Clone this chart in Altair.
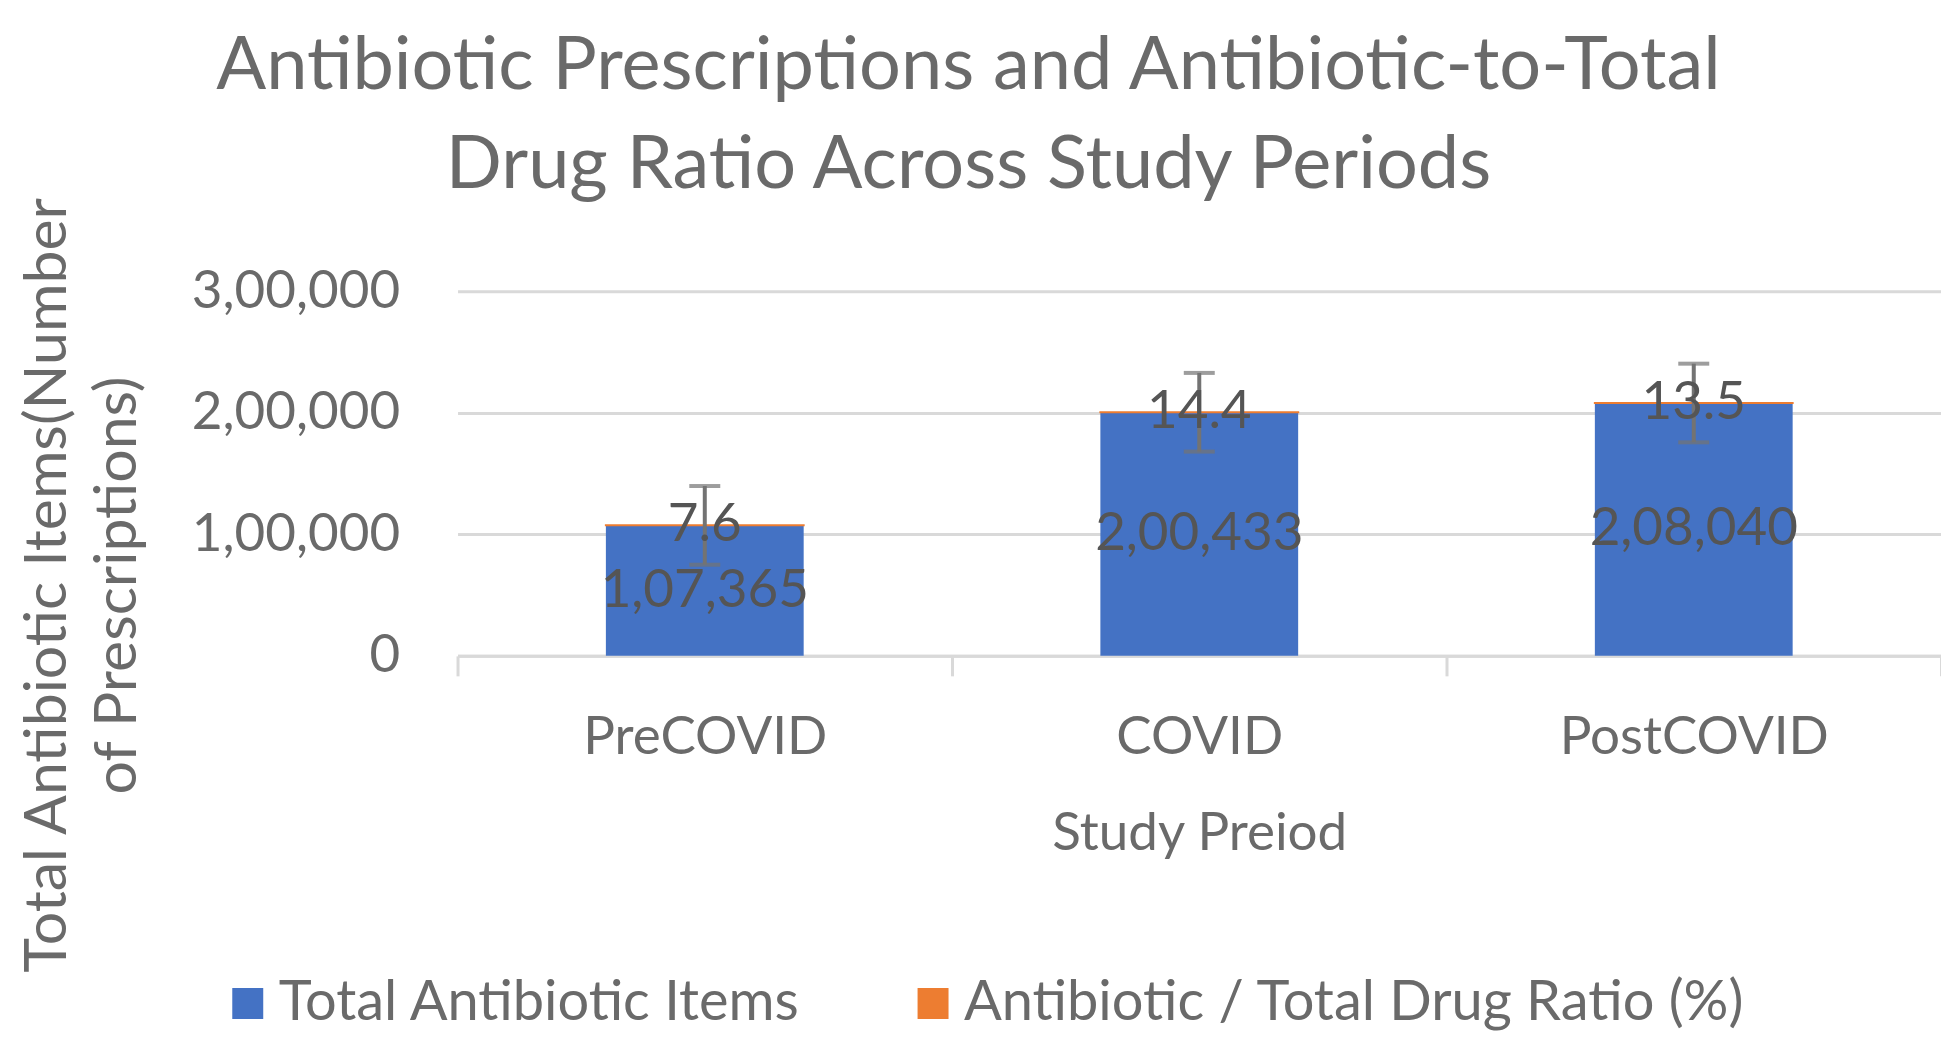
import altair as alt
import pandas as pd

# ---- data ----
periods = ["PreCOVID", "COVID", "PostCOVID"]
total_items = [107365, 200433, 208040]
ratio_pct = [7.6, 14.4, 13.5]
err_items = [32365, 32365, 32365]
series_names = ["Total Antibiotic Items", "Antibiotic / Total Drug Ratio (%)"]
series_colors = ["#4472C4", "#ED7D31"]
y_ticks = [0, 100000, 200000, 300000]


def indian(n):
    s = str(int(round(n)))
    if len(s) <= 3:
        return s
    head, tail = s[:-3], s[-3:]
    parts = []
    while len(head) > 2:
        parts.insert(0, head[-2:])
        head = head[:-2]
    if head:
        parts.insert(0, head)
    return ",".join(parts) + "," + tail


rows = []
for p, t, r in zip(periods, total_items, ratio_pct):
    rows.append({"period": p, "series": series_names[0], "value": t, "ord": 0})
    rows.append({"period": p, "series": series_names[1], "value": r, "ord": 1})
long_df = pd.DataFrame(rows)

wide_df = pd.DataFrame({
    "period": periods,
    "total": total_items,
    "ratio": ratio_pct,
    "err": err_items,
    "total_label": [indian(v) for v in total_items],
    "ratio_label": [f"{v:.1f}" for v in ratio_pct],
})

FONT = "Lato"
TXT = "#6a6a6a"
GRID = "#D9D9D9"

x_scale = alt.Scale(domain=periods, paddingInner=0, paddingOuter=0)
y_scale = alt.Scale(domain=[0, 300000], nice=False, zero=True)

x_axis = alt.Axis(
    title="Study Preiod", labelFont=FONT, labelFontSize=53, labelColor=TXT,
    labelAngle=0, labelPadding=36, labelLimit=1000, tickBand="extent",
    tickSize=20, tickWidth=3, tickColor=GRID, domainColor=GRID, domainWidth=3,
    grid=False, titleFont=FONT, titleFontSize=53, titleFontWeight="normal",
    titleColor=TXT, titleBaseline="alphabetic", titleY=194, titleAnchor="middle",
)
y_axis = alt.Axis(
    title=["Total Antibiotic Items(Number", "of Prescriptions)"],
    values=y_ticks,
    labelExpr="datum.value == 0 ? '0' : floor(datum.value / 100000) + ',00,000'",
    labelFont=FONT, labelFontSize=53, labelColor=TXT, labelPadding=58,
    labelLimit=1000, domain=False, ticks=False, grid=True, gridColor=GRID,
    gridWidth=3, titleFont=FONT, titleFontSize=59, titleFontWeight="normal",
    titleColor=TXT, titleAngle=270, titleBaseline="alphabetic",
    titleAlign="center", titleX=-392, titleY=294, titleLineHeight=70,
)

bars = alt.Chart(long_df).mark_bar(width=alt.RelativeBandSize(0.4)).encode(
    x=alt.X("period:N", scale=x_scale, axis=x_axis, sort=periods),
    y=alt.Y("value:Q", stack="zero", scale=y_scale, axis=y_axis),
    color=alt.Color(
        "series:N",
        scale=alt.Scale(domain=series_names, range=series_colors),
        legend=alt.Legend(
            title=None, orient="none", direction="horizontal", columns=2,
            legendX=-238, legendY=685, symbolType="square", symbolSize=961,
            symbolStrokeWidth=0, labelFont=FONT, labelFontSize=56,
            labelColor=TXT, labelOffset=3, columnPadding=104, labelLimit=1000,
        ),
    ),
    order=alt.Order("ord:Q"),
    stroke=alt.condition(
        alt.datum.series == series_names[1], alt.value("#ED7D31"), alt.value("transparent")
    ),
    strokeWidth=alt.value(2),
)

base = alt.Chart(wide_df).encode(
    x=alt.X("period:N", scale=x_scale, axis=x_axis, sort=periods)
)

err_rule = base.transform_calculate(
    lo="datum.total - datum.err", hi="datum.total + datum.err"
).mark_rule(color="#737373", strokeWidth=4).encode(
    y=alt.Y("lo:Q", scale=y_scale, axis=y_axis), y2="hi:Q"
)
cap_lo = base.transform_calculate(lo="datum.total - datum.err").mark_tick(
    color="#737373", thickness=4, size=31, orient="horizontal"
).encode(y=alt.Y("lo:Q", scale=y_scale, axis=y_axis))
cap_hi = base.transform_calculate(hi="datum.total + datum.err").mark_tick(
    color="#737373", thickness=4, size=31, orient="horizontal"
).encode(y=alt.Y("hi:Q", scale=y_scale, axis=y_axis))

total_text = base.transform_calculate(mid="datum.total / 2").mark_text(
    font=FONT, fontSize=53, color="#555555", baseline="middle", align="center"
).encode(y=alt.Y("mid:Q", scale=y_scale, axis=y_axis), text="total_label:N")

ratio_text = base.transform_calculate(top="datum.total + datum.ratio / 2").mark_text(
    font=FONT, fontSize=53, color="#555555", baseline="middle", align="center"
).encode(y=alt.Y("top:Q", scale=y_scale, axis=y_axis), text="ratio_label:N")

chart = alt.layer(bars, err_rule, cap_lo, cap_hi, total_text, ratio_text).properties(
    width=1485,
    height=365,
    title=alt.TitleParams(
        text=["Antibiotic Prescriptions and Antibiotic-to-Total",
              "Drug Ratio Across Study Periods"],
        font=FONT, fontSize=74, fontWeight="normal", color=TXT,
        anchor="middle", dx=-231, lineHeight=100, offset=-8,
    ),
    autosize=alt.AutoSizeParams(type="none"),
    padding={"left": 450, "top": 283, "right": 0, "bottom": 376},
    background="white",
).configure_view(stroke=None)

chart.save("out.html", embed_options={"renderer": "svg", "actions": False})
